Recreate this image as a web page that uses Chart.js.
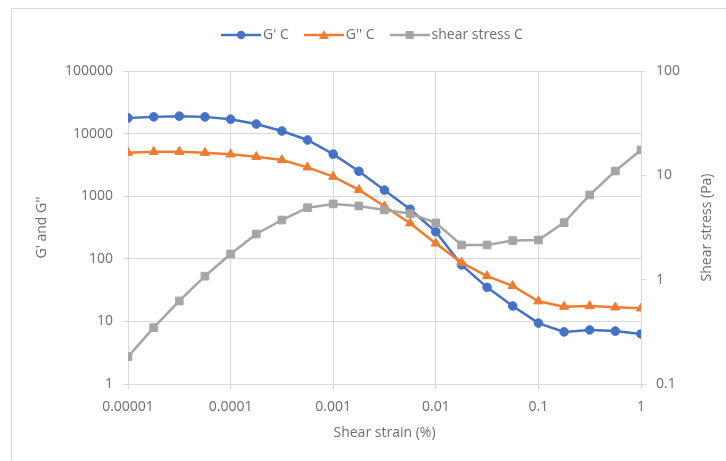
<!DOCTYPE html>
<html>
<head>
<meta charset="utf-8">
<script src="https://cdn.jsdelivr.net/npm/chart.js@4"></script>
<style>
  html, body { margin: 0; padding: 0; background: #ffffff; }
  #wrap { position: relative; width: 726px; height: 461px; overflow: hidden; }
  #c { position: absolute; left: 0; top: 0; }
  #frame { position: absolute; left: 11px; top: 8px; width: 800px; height: 600px;
           border-top: 1px solid #d9d9d9; border-left: 1px solid #d9d9d9; pointer-events: none; }
</style>
</head>
<body>
<div id="wrap">
  <canvas id="c" width="726" height="461"></canvas>
  <div id="frame"></div>
</div>
<script>
// ---- data ----
const strain = [0.00001, 0.0000178, 0.0000316, 0.0000562, 0.0001, 0.000178, 0.000316, 0.000562,
                0.001, 0.00178, 0.00316, 0.00562, 0.01, 0.0178, 0.0316, 0.0562,
                0.1, 0.178, 0.316, 0.562, 1];
const gPrime = [17800, 18500, 19000, 18500, 17000, 14200, 11000, 7900,
                4700, 2500, 1250, 620, 270, 80, 35, 17.6,
                9.4, 6.8, 7.3, 7.0, 6.3];
const gDoublePrime = [4950, 5130, 5130, 4950, 4670, 4270, 3790, 2890,
                      2050, 1260, 690, 370, 176, 87, 53, 37,
                      21, 17.2, 17.6, 16.8, 16.2];
const shearStress = [0.183, 0.347, 0.625, 1.08, 1.76, 2.74, 3.73, 4.9,
                     5.32, 5.09, 4.66, 4.3, 3.5, 2.15, 2.15, 2.37,
                     2.40, 3.52, 6.49, 11.0, 17.5];
const seriesNames = ["G' C", "G'' C", "shear stress C"];
const xTickValues = [0.00001, 0.0001, 0.001, 0.01, 0.1, 1];
const xTickLabels = ["0.00001", "0.0001", "0.001", "0.01", "0.1", "1"];
const yTickValues = [1, 10, 100, 1000, 10000, 100000];
const yTickLabels = ["1", "10", "100", "1000", "10000", "100000"];
const y2TickValues = [0.1, 1, 10, 100];
const y2TickLabels = ["0.1", "1", "10", "100"];
const axisTitles = { x: 'Shear strain (%)', y: "G' and G''", y2: 'Shear stress (Pa)' };

// ---- styling ----
const BLUE = '#4472C4', ORANGE = '#ED7D31', GRAY = '#A5A5A5';
const GRID = '#d9d9d9', TEXT = '#6e6e6e';
const FONT = "'Open Sans', 'Liberation Sans', sans-serif";

function legendIcon(color, style) {
  const c = document.createElement('canvas');
  c.width = 40; c.height = 12;
  const g = c.getContext('2d');
  g.strokeStyle = color; g.fillStyle = color; g.lineWidth = 2.5;
  g.beginPath(); g.moveTo(0, 6); g.lineTo(40, 6); g.stroke();
  g.beginPath();
  if (style === 'circle') { g.arc(20, 6, 4.2, 0, Math.PI * 2); }
  else if (style === 'triangle') { g.moveTo(20, 1); g.lineTo(25, 10); g.lineTo(15, 10); g.closePath(); }
  else { g.rect(16, 2, 8, 8); }
  g.fill();
  return c;
}
const icons = [legendIcon(BLUE, 'circle'), legendIcon(ORANGE, 'triangle'), legendIcon(GRAY, 'rect')];

function pts(ys) { return strain.map((x, i) => ({ x: x, y: ys[i] })); }

function fixedTicks(values) {
  return function (scale) { scale.ticks = values.map(v => ({ value: v })); };
}

const legendHeightPlugin = {
  id: 'legendHeight',
  beforeInit(chart) {
    const lg = chart.legend;
    if (lg) {
      const orig = lg.fit;
      lg.fit = function () { orig.call(this); this.height = 63; };
    }
  }
};

// right-axis title reading bottom-to-top, as in the reference
const rightTitlePlugin = {
  id: 'rightTitle',
  afterDraw(chart) {
    const s = chart.scales.y2;
    const ctx = chart.ctx;
    ctx.save();
    ctx.translate(s.right - 12, (chart.chartArea.top + chart.chartArea.bottom) / 2);
    ctx.rotate(-Math.PI / 2);
    ctx.textAlign = 'center';
    ctx.textBaseline = 'middle';
    ctx.fillStyle = TEXT;
    ctx.font = "14px " + FONT;
    ctx.fillText(axisTitles.y2, 0, 0);
    ctx.restore();
  }
};

new Chart(document.getElementById('c'), {
  type: 'line',
  data: {
    datasets: [
      { label: seriesNames[0], data: pts(gPrime), yAxisID: 'y', borderColor: BLUE, backgroundColor: BLUE,
        pointStyle: 'circle', pointRadius: 4.3, pointBorderWidth: 1, borderWidth: 2.5, order: 2 },
      { label: seriesNames[1], data: pts(gDoublePrime), yAxisID: 'y', borderColor: ORANGE, backgroundColor: ORANGE,
        pointStyle: 'triangle', pointRadius: 5.3, pointBorderWidth: 1, borderWidth: 2.5, order: 1 },
      { label: seriesNames[2], data: pts(shearStress), yAxisID: 'y2', borderColor: GRAY, backgroundColor: GRAY,
        pointStyle: 'rect', pointRadius: 5.4, pointBorderWidth: 1, borderWidth: 2.5, order: 0 }
    ]
  },
  options: {
    responsive: false,
    animation: false,
    devicePixelRatio: 1,
    layout: { padding: { left: 30, right: 7, top: 8, bottom: 17 } },
    plugins: {
      tooltip: { enabled: false },
      legend: {
        position: 'top',
        labels: {
          color: TEXT,
          font: { family: FONT, size: 14 },
          usePointStyle: true,
          pointStyleWidth: 30,
          padding: 20,
          generateLabels(chart) {
            return chart.data.datasets.map((ds, i) => ({
              text: ds.label, pointStyle: icons[i], fillStyle: ds.borderColor,
              strokeStyle: ds.borderColor, lineWidth: 0, hidden: false, datasetIndex: i,
              fontColor: TEXT
            }));
          }
        }
      }
    },
    scales: {
      x: {
        type: 'logarithmic', position: 'bottom', min: 0.00001, max: 1,
        afterBuildTicks: fixedTicks(xTickValues),
        afterFit(s) { s.height = 60; },
        grid: { color: GRID, lineWidth: 1, tickLength: 5 },
        border: { color: GRID },
        ticks: { color: TEXT, font: { family: FONT, size: 14 }, padding: 10, maxRotation: 0, autoSkip: false,
                 callback: (v, i) => xTickLabels[i] },
        title: { display: true, text: axisTitles.x, color: TEXT, font: { family: FONT, size: 14 }, padding: 3 }
      },
      y: {
        type: 'logarithmic', position: 'left', min: 1, max: 100000,
        afterBuildTicks: fixedTicks(yTickValues),
        afterFit(s) { s.width = 98; },
        grid: { color: GRID, lineWidth: 1, tickLength: 5 },
        border: { color: GRID },
        ticks: { color: TEXT, font: { family: FONT, size: 14 }, padding: 10, autoSkip: false,
                 callback: (v, i) => yTickLabels[i] },
        title: { display: true, text: axisTitles.y, color: TEXT, font: { family: FONT, size: 14 }, padding: 4 }
      },
      y2: {
        type: 'logarithmic', position: 'right', min: 0.1, max: 100,
        afterBuildTicks: fixedTicks(y2TickValues),
        afterFit(s) { s.width = 78; },
        grid: { drawOnChartArea: false, color: GRID, tickLength: 5 },
        border: { color: GRID },
        ticks: { color: TEXT, font: { family: FONT, size: 14 }, padding: 10, autoSkip: false,
                 callback: (v, i) => y2TickLabels[i] },
        title: { display: false }
      }
    }
  },
  plugins: [legendHeightPlugin, rightTitlePlugin]
});
</script>
</body>
</html>
